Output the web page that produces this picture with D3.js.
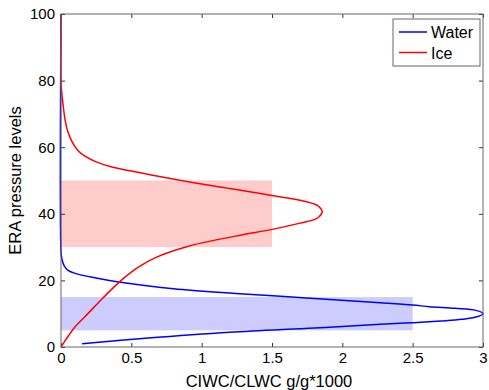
<!DOCTYPE html>
<html>
<head>
<meta charset="utf-8">
<script src="https://cdn.jsdelivr.net/npm/d3@7"></script>
<style>
  body { margin: 0; background: #fff; }
  svg text { font-family: "Liberation Sans", Arial, sans-serif; fill: #000; }
</style>
</head>
<body>
<svg id="chart" width="489" height="390"></svg>
<script>
// water (CLWC) profile, traced along the curve from the bottom end
const waterX = [0.15, 0.6, 1.2, 1.8, 2.27, 2.5, 2.7, 2.85, 2.95, 3.0, 2.95, 2.8, 2.62, 2.5, 2.27, 1.8, 1.24, 0.8, 0.41, 0.25, 0.1, 0.05, 0.025, 0.012, 0.005, 0, 0];
const waterLevel = [1.0, 2.6, 4.4, 5.7, 6.8, 7.3, 7.8, 8.3, 9.0, 10.0, 11.0, 11.6, 12.1, 12.6, 13.3, 14.6, 16.1, 17.5, 19.5, 20.7, 22.1, 23.0, 24.2, 25.5, 26.8, 28.5, 100];

// ice (CIWC) profile
const iceX = [0, 0.02, 0.052, 0.1, 0.17, 0.3, 0.43, 0.55, 0.68, 0.9, 1.24, 1.51, 1.7, 1.81, 1.835, 1.857, 1.835, 1.81, 1.7, 1.51, 1.2, 0.964, 0.7, 0.49, 0.35, 0.25, 0.17, 0.12, 0.08, 0.05, 0.03, 0.014, 0.004, 0, 0];
const iceLevel = [0, 1.3, 3.3, 6.1, 9.1, 14.8, 20.1, 24.0, 27.0, 30.2, 33.3, 35.4, 37.2, 38.4, 39.1, 40.6, 42.1, 42.8, 44.1, 45.4, 47.6, 49.2, 51.2, 52.9, 54.2, 55.6, 57.3, 59.0, 61.5, 64.5, 68.0, 73.0, 77.0, 79.0, 100];

// shaded level bands
const bandNames = ["Ice", "Water"];
const bandLow = [30, 5];
const bandHigh = [50, 15];
const bandXMax = [1.5, 2.5];
const bandColors = ["#ffcccc", "#ccccff"];

const seriesNames = ["Water", "Ice"];
const seriesColors = ["#0000ff", "#ff0000"];

const xTicks = [0, 0.5, 1, 1.5, 2, 2.5, 3];
const yTicks = [0, 20, 40, 60, 80, 100];

const svg = d3.select("#chart");
const mLeft = 61, mRight = 483, mTop = 14, mBottom = 347;

const x = d3.scaleLinear().domain([0, 3]).range([mLeft, mRight]);
const y = d3.scaleLinear().domain([0, 100]).range([mBottom, mTop]);

// bands
svg.selectAll("rect.band")
  .data(bandNames)
  .enter()
  .append("rect")
  .attr("class", "band")
  .attr("x", x(0))
  .attr("y", (d, i) => y(bandHigh[i]))
  .attr("width", (d, i) => x(bandXMax[i]) - x(0))
  .attr("height", (d, i) => y(bandLow[i]) - y(bandHigh[i]))
  .attr("fill", (d, i) => bandColors[i]);

// curves
const line = d3.line()
  .x(d => x(d[0]))
  .y(d => y(d[1]))
  .curve(d3.curveCatmullRom.alpha(0.5));

const curves = [
  d3.zip(waterX, waterLevel),
  d3.zip(iceX, iceLevel)
];

svg.selectAll("path.curve")
  .data(curves)
  .enter()
  .append("path")
  .attr("class", "curve")
  .attr("d", line)
  .attr("fill", "none")
  .attr("stroke", (d, i) => seriesColors[i])
  .attr("stroke-width", 1.5);

// axes, ticks point inward
function styleAxis(g) {
  g.select(".domain").remove();
  g.selectAll(".tick line").attr("stroke", "#333");
  g.selectAll(".tick text").attr("font-size", 15).attr("fill", "#000");
}

svg.append("g")
  .attr("transform", `translate(0,${mBottom})`)
  .call(d3.axisBottom(x).tickValues(xTicks).tickFormat(d3.format("")).tickSize(-4).tickPadding(5))
  .call(styleAxis);

svg.append("g")
  .attr("transform", `translate(${mLeft},0)`)
  .call(d3.axisLeft(y).tickValues(yTicks).tickSize(-4).tickPadding(6))
  .call(styleAxis);

svg.append("g")
  .attr("transform", `translate(0,${mTop})`)
  .call(d3.axisTop(x).tickValues(xTicks).tickFormat("").tickSize(-4))
  .call(styleAxis);

svg.append("g")
  .attr("transform", `translate(${mRight},0)`)
  .call(d3.axisRight(y).tickValues(yTicks).tickFormat("").tickSize(-4))
  .call(styleAxis);

svg.append("rect")
  .attr("x", mLeft)
  .attr("y", mTop)
  .attr("width", mRight - mLeft)
  .attr("height", mBottom - mTop)
  .attr("fill", "none")
  .attr("stroke", "#666")
  .attr("stroke-width", 1);

// axis labels
svg.append("text")
  .attr("x", (mLeft + mRight) / 2 - 3)
  .attr("y", 386.5)
  .attr("text-anchor", "middle")
  .attr("font-size", 16.5)
  .text("CIWC/CLWC g/g*1000");

svg.append("text")
  .attr("transform", `translate(21,${(mTop + mBottom) / 2}) rotate(-90)`)
  .attr("text-anchor", "middle")
  .attr("font-size", 16.5)
  .text("ERA pressure levels");

// legend
const legend = svg.append("g").attr("transform", "translate(393,19)");
legend.append("rect")
  .attr("width", 87)
  .attr("height", 47)
  .attr("fill", "#fff")
  .attr("stroke", "#666");

const items = legend.selectAll("g.item")
  .data(seriesNames)
  .enter()
  .append("g")
  .attr("class", "item")
  .attr("transform", (d, i) => `translate(0,${13 + i * 20.5})`);

items.append("line")
  .attr("x1", 6).attr("x2", 34)
  .attr("stroke", (d, i) => seriesColors[i])
  .attr("stroke-width", 1.5);

items.append("text")
  .attr("x", 38)
  .attr("y", 6)
  .attr("font-size", 16)
  .text(d => d);
</script>
</body>
</html>
